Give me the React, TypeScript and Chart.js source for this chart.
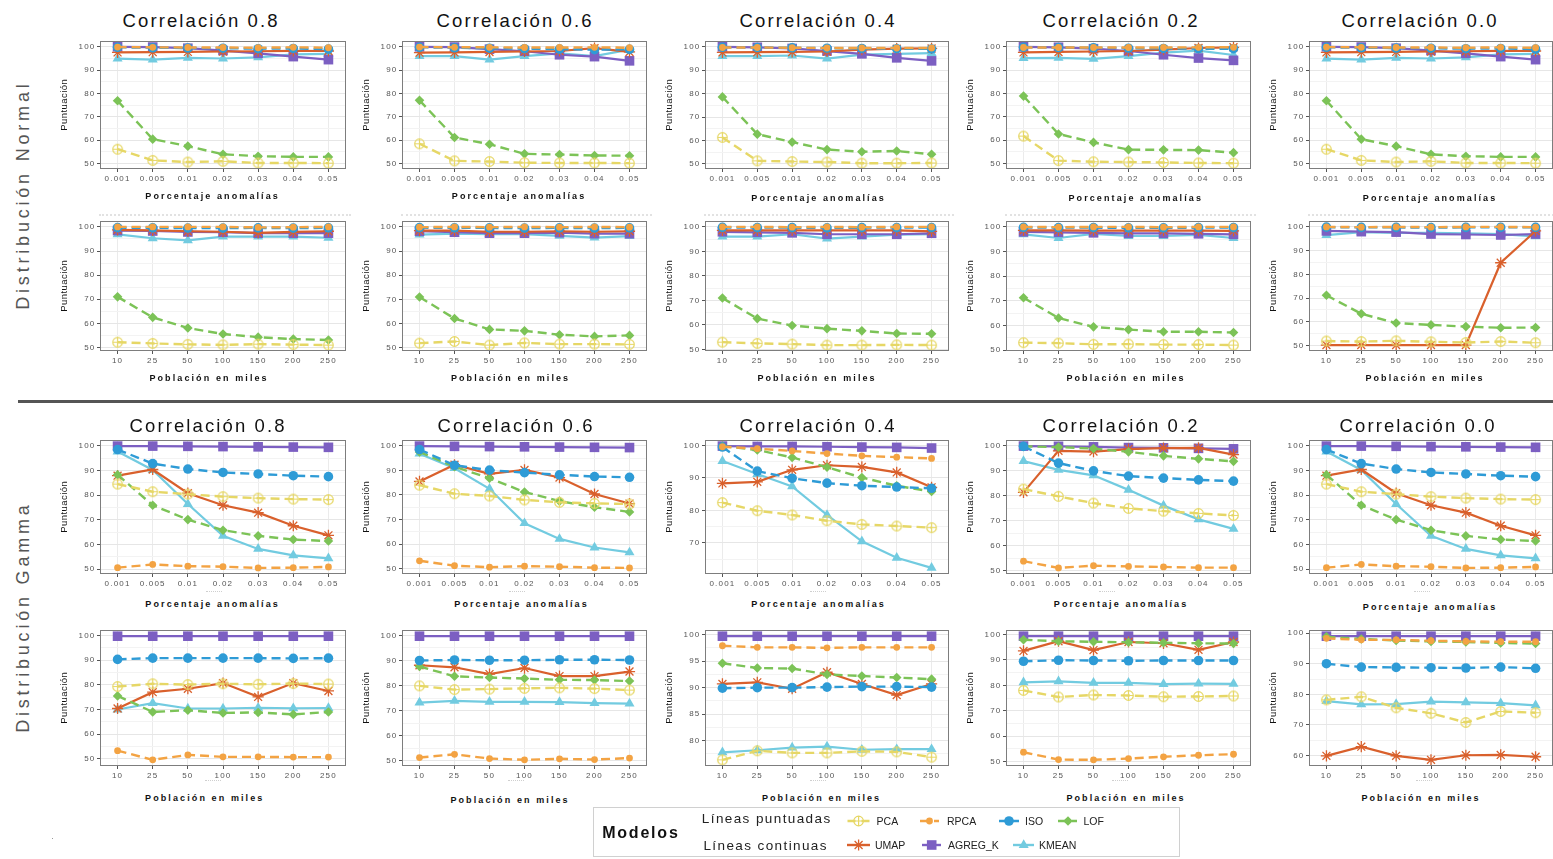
import React, { useEffect, useRef } from 'react';
import { Chart, registerables } from 'chart.js';

Chart.register(...registerables);

// ---------- data ----------
// Each panel holds one row per model, in SERIES order.
const SERIES = ['PCA', 'RPCA', 'ISO', 'LOF', 'UMAP', 'AGREG_K', 'KMEAN'];
const PCT_LABELS = ['0.001', '0.005', '0.01', '0.02', '0.03', '0.04', '0.05'];
const POB_LABELS = ['10', '25', '50', '100', '150', '200', '250'];
const CORR_TITLES = ['Correlación 0.8', 'Correlación 0.6', 'Correlación 0.4', 'Correlación 0.2', 'Correlación 0.0'];
const ROW_TITLES = ['Distribución Normal', 'Distribución Gamma'];

// Distribución Normal, by anomaly percentage
const normalPct08 = [
  [56.1, 51.3, 50.6, 50.9, 50.2, 50.2, 50.1],
  [99.9, 99.8, 99.7, 99.7, 99.6, 99.8, 99.6],
  [99.8, 99.6, 99.5, 99.4, 99.2, 99.3, 99.0],
  [76.9, 60.4, 57.4, 53.9, 53.1, 52.8, 52.8],
  [97.6, 97.7, 97.8, 98.0, 98.1, 98.3, 98.2],
  [100.0, 99.9, 99.4, 98.4, 97.2, 95.8, 94.5],
  [94.9, 94.5, 95.3, 95.0, 95.5, 96.8, 97.0],
];
const normalPct06 = [
  [58.5, 51.2, 50.9, 50.4, 50.3, 50.3, 50.2],
  [99.9, 99.8, 99.8, 99.7, 99.7, 99.8, 99.6],
  [99.8, 99.6, 99.4, 99.2, 99.0, 98.8, 98.9],
  [77.1, 61.2, 58.3, 54.2, 53.9, 53.5, 53.4],
  [97.5, 97.6, 97.8, 98.0, 98.2, 99.4, 97.8],
  [100.0, 99.9, 99.0, 98.1, 96.6, 95.8, 94.0],
  [96.0, 96.0, 94.5, 96.0, 97.2, 96.0, 98.8],
];
const normalPct04 = [
  [61.3, 51.3, 51.0, 50.8, 50.3, 50.3, 50.4],
  [99.7, 99.7, 99.6, 99.5, 99.5, 99.5, 99.5],
  [99.8, 99.7, 99.6, 99.4, 99.3, 99.2, 99.1],
  [78.6, 62.7, 59.3, 56.1, 55.2, 55.5, 54.1],
  [97.6, 97.7, 97.8, 98.0, 98.8, 99.2, 99.3],
  [100.0, 99.8, 99.3, 98.2, 97.0, 95.3, 94.0],
  [96.0, 96.0, 96.3, 95.0, 96.7, 97.0, 97.3],
];
const normalPct02 = [
  [61.8, 51.3, 50.8, 50.7, 50.5, 50.3, 50.2],
  [99.7, 99.7, 99.7, 99.7, 99.7, 99.8, 99.8],
  [99.8, 99.7, 99.6, 99.4, 99.3, 99.2, 99.2],
  [78.9, 62.7, 59.1, 56.0, 55.9, 55.8, 54.7],
  [97.6, 97.8, 98.0, 98.2, 98.8, 99.5, 99.8],
  [100.0, 99.8, 99.2, 98.2, 96.6, 95.2, 94.2],
  [95.2, 95.3, 94.8, 96.0, 97.5, 98.4, 96.5],
];
const normalPct00 = [
  [56.1, 51.3, 50.6, 50.9, 50.2, 50.2, 50.1],
  [99.9, 99.8, 99.7, 99.7, 99.6, 99.8, 99.6],
  [99.8, 99.6, 99.5, 99.4, 99.2, 99.3, 99.0],
  [76.9, 60.4, 57.4, 53.9, 53.1, 52.8, 52.8],
  [97.6, 97.7, 97.8, 98.0, 98.1, 98.3, 98.2],
  [100.0, 99.9, 99.4, 98.4, 97.2, 95.8, 94.5],
  [94.9, 94.5, 95.3, 95.0, 95.5, 96.8, 97.0],
];

// Distribución Normal, by population (thousands)
const normalPob08 = [
  [52.2, 51.7, 51.3, 51.1, 51.4, 51.2, 51.0],
  [100.0, 100.0, 100.0, 100.0, 99.8, 99.9, 100.0],
  [99.7, 99.6, 99.5, 99.5, 99.6, 99.5, 99.6],
  [71.0, 62.5, 58.1, 55.6, 54.3, 53.5, 53.1],
  [98.8, 98.6, 98.2, 98.0, 97.5, 97.9, 98.2],
  [98.5, 98.3, 97.9, 97.8, 97.4, 97.4, 97.4],
  [96.9, 95.3, 94.4, 96.0, 96.0, 96.0, 95.5],
];
const normalPob06 = [
  [51.9, 52.6, 51.1, 52.0, 51.5, 51.5, 51.4],
  [99.9, 100.0, 99.9, 100.0, 99.9, 100.0, 99.9],
  [99.7, 99.6, 99.6, 99.5, 99.6, 99.5, 99.6],
  [71.0, 62.1, 57.6, 57.0, 55.4, 54.7, 55.1],
  [98.5, 98.5, 98.0, 98.0, 98.2, 98.0, 98.2],
  [98.2, 97.8, 97.4, 97.4, 97.6, 97.2, 97.2],
  [96.8, 97.2, 97.0, 97.0, 96.3, 95.6, 96.2],
];
const normalPob04 = [
  [53.0, 52.5, 52.2, 51.8, 51.8, 51.9, 51.8],
  [100.0, 100.0, 99.9, 100.0, 99.9, 100.0, 100.0],
  [99.8, 99.7, 99.7, 99.6, 99.7, 99.7, 99.7],
  [71.0, 62.6, 59.8, 58.5, 57.6, 56.5, 56.4],
  [98.6, 98.6, 98.6, 98.6, 98.6, 98.6, 98.2],
  [98.0, 97.8, 97.6, 97.0, 97.0, 97.0, 97.4],
  [96.0, 96.0, 97.0, 95.2, 96.0, 96.8, 97.0],
];
const normalPob02 = [
  [53.0, 52.8, 52.3, 52.4, 52.2, 52.2, 52.0],
  [100.0, 99.9, 100.0, 100.0, 99.9, 100.0, 100.0],
  [99.8, 99.7, 99.7, 99.6, 99.6, 99.7, 99.7],
  [71.2, 63.0, 59.4, 58.3, 57.4, 57.4, 57.1],
  [98.6, 98.6, 98.5, 98.5, 98.5, 98.5, 98.4],
  [98.0, 97.8, 97.6, 97.4, 97.4, 97.2, 97.0],
  [97.0, 95.5, 97.2, 96.3, 96.3, 96.8, 95.5],
];
const normalPob00 = [
  [51.9, 51.7, 52.0, 51.6, 51.3, 51.7, 51.2],
  [100.0, 99.9, 100.0, 99.9, 100.0, 100.0, 99.9],
  [99.9, 99.8, 99.8, 99.7, 99.8, 99.8, 99.8],
  [71.2, 63.4, 59.5, 58.7, 58.0, 57.5, 57.6],
  [50.2, 50.2, 50.2, 50.2, 50.2, 84.9, 98.3],
  [98.3, 98.0, 97.8, 97.0, 96.8, 96.6, 97.0],
  [96.5, 97.8, 97.5, 97.5, 97.3, 97.0, 96.0],
];

// Distribución Gamma, by anomaly percentage
const gammaPct08 = [
  [84.5, 81.4, 80.4, 79.4, 78.8, 78.4, 78.2],
  [50.6, 51.9, 51.2, 51.0, 50.5, 50.6, 50.9],
  [98.5, 92.8, 90.6, 89.2, 88.6, 87.9, 87.5],
  [88.3, 75.9, 70.1, 65.8, 63.5, 62.0, 61.4],
  [87.9, 90.4, 80.8, 75.9, 72.9, 67.6, 63.7],
  [99.9, 99.9, 99.8, 99.7, 99.6, 99.5, 99.4],
  [97.7, 90.2, 76.4, 63.5, 58.2, 55.6, 54.4],
];
const gammaPct06 = [
  [84.0, 80.5, 79.6, 78.0, 77.0, 76.6, 76.3],
  [53.2, 51.2, 50.6, 51.0, 50.8, 50.4, 50.3],
  [98.5, 92.1, 90.1, 89.1, 88.2, 87.5, 87.2],
  [97.5, 91.5, 86.8, 81.2, 77.5, 75.0, 73.1],
  [85.5, 92.3, 88.6, 90.2, 87.1, 80.4, 76.5],
  [99.9, 99.8, 99.7, 99.6, 99.5, 99.4, 99.3],
  [96.8, 90.9, 82.5, 68.5, 62.1, 58.6, 56.6],
];
const gammaPct04 = [
  [82.4, 79.9, 78.6, 76.8, 75.7, 75.2, 74.7],
  [99.6, 99.0, 98.3, 97.5, 96.8, 96.4, 96.0],
  [99.5, 92.1, 89.9, 88.4, 87.6, 87.2, 86.8],
  [99.8, 98.6, 96.3, 93.3, 90.1, 87.6, 85.8],
  [88.3, 88.8, 92.5, 93.9, 93.4, 91.7, 87.1],
  [99.8, 99.7, 99.7, 99.6, 99.5, 99.4, 99.2],
  [95.2, 91.2, 87.4, 78.6, 70.5, 65.4, 62.3],
];
const gammaPct02 = [
  [82.7, 79.8, 77.1, 75.0, 73.9, 73.0, 72.2],
  [53.9, 51.2, 52.1, 51.8, 51.6, 51.3, 51.3],
  [99.8, 93.1, 90.0, 87.9, 87.1, 86.4, 85.9],
  [99.8, 99.5, 98.9, 97.6, 96.0, 94.8, 93.8],
  [81.4, 98.0, 97.7, 98.7, 99.1, 99.2, 96.5],
  [99.9, 99.8, 99.6, 99.3, 99.2, 99.0, 98.8],
  [93.9, 90.4, 88.2, 82.4, 76.1, 70.6, 66.8],
];
const gammaPct00 = [
  [84.5, 81.4, 80.4, 79.4, 78.8, 78.4, 78.2],
  [50.6, 51.9, 51.2, 51.0, 50.5, 50.6, 50.9],
  [98.5, 92.8, 90.6, 89.2, 88.6, 87.9, 87.5],
  [88.3, 75.9, 70.1, 65.8, 63.5, 62.0, 61.4],
  [87.9, 90.4, 80.8, 75.9, 72.9, 67.6, 63.7],
  [99.9, 99.9, 99.8, 99.7, 99.6, 99.5, 99.4],
  [97.7, 90.2, 76.4, 63.5, 58.2, 55.6, 54.4],
];

// Distribución Gamma, by population (thousands)
const gammaPob08 = [
  [79.3, 80.4, 80.1, 80.4, 80.2, 80.5, 80.3],
  [53.3, 49.6, 51.6, 50.8, 50.8, 50.7, 50.7],
  [90.3, 90.8, 90.8, 90.8, 90.8, 90.7, 90.8],
  [75.5, 69.0, 69.7, 68.6, 68.8, 68.0, 69.0],
  [70.4, 77.0, 78.4, 80.7, 75.1, 80.7, 77.5],
  [99.7, 99.7, 99.7, 99.7, 99.7, 99.7, 99.7],
  [70.0, 72.6, 70.4, 70.4, 70.7, 70.5, 70.6],
];
const gammaPob06 = [
  [79.9, 78.4, 78.6, 78.9, 79.1, 78.8, 78.2],
  [51.3, 52.6, 50.9, 50.4, 50.8, 50.5, 51.1],
  [90.0, 90.2, 90.1, 90.1, 90.3, 90.3, 90.2],
  [87.6, 83.7, 83.2, 82.8, 82.3, 82.2, 81.8],
  [88.1, 87.3, 84.6, 87.0, 83.8, 83.8, 85.6],
  [99.7, 99.7, 99.7, 99.7, 99.7, 99.7, 99.7],
  [73.2, 73.9, 73.5, 73.5, 73.4, 73.0, 72.8],
];
const gammaPob04 = [
  [76.4, 78.1, 77.7, 77.7, 78.0, 77.9, 76.9],
  [97.9, 97.6, 97.6, 97.5, 97.6, 97.6, 97.6],
  [89.9, 90.0, 90.0, 90.1, 90.2, 90.2, 90.1],
  [94.6, 93.7, 93.6, 92.5, 92.2, 91.9, 91.6],
  [90.7, 91.0, 89.8, 92.9, 90.7, 88.6, 90.7],
  [99.7, 99.7, 99.7, 99.7, 99.7, 99.7, 99.7],
  [77.8, 78.2, 78.7, 78.9, 78.3, 78.4, 78.4],
];
const gammaPob02 = [
  [78.0, 75.4, 76.2, 76.0, 75.5, 75.6, 75.8],
  [53.6, 50.7, 50.6, 51.1, 51.8, 52.4, 52.8],
  [89.5, 89.9, 89.8, 89.7, 89.8, 89.8, 89.8],
  [98.0, 97.4, 97.2, 97.0, 96.8, 96.6, 96.5],
  [93.6, 97.4, 93.9, 97.1, 96.6, 94.0, 97.1],
  [99.4, 99.4, 99.4, 99.4, 99.4, 99.4, 99.4],
  [81.2, 81.6, 81.0, 81.0, 80.5, 80.7, 80.6],
];
const gammaPob00 = [
  [78.2, 79.2, 75.6, 73.8, 70.8, 74.4, 74.0],
  [98.3, 97.8, 97.8, 97.5, 97.3, 97.2, 97.2],
  [90.0, 88.9, 88.8, 88.7, 88.6, 88.9, 88.5],
  [98.8, 98.1, 97.6, 97.3, 97.1, 96.8, 96.6],
  [59.9, 62.9, 59.9, 58.6, 60.1, 60.2, 59.6],
  [99.0, 99.0, 99.0, 99.0, 99.0, 99.0, 99.0],
  [77.8, 76.7, 76.8, 77.6, 77.4, 77.1, 76.4],
];

const PANEL_ROWS = [
  { labels: PCT_LABELS, xTitle: 'Porcentaje anomalías', panels: [normalPct08, normalPct06, normalPct04, normalPct02, normalPct00] },
  { labels: POB_LABELS, xTitle: 'Población en miles', panels: [normalPob08, normalPob06, normalPob04, normalPob02, normalPob00] },
  { labels: PCT_LABELS, xTitle: 'Porcentaje anomalías', panels: [gammaPct08, gammaPct06, gammaPct04, gammaPct02, gammaPct00] },
  { labels: POB_LABELS, xTitle: 'Población en miles', panels: [gammaPob08, gammaPob06, gammaPob04, gammaPob02, gammaPob00] },
];

// ---------- look ----------
const FONT = "'Liberation Sans', Arial, Helvetica, sans-serif";

const STYLES: Record<string, any> = {
  PCA: { color: '#e6d766', dashed: true, marker: 'circlePlus' },
  RPCA: { color: '#f3a343', dashed: true, marker: 'dotSmall' },
  ISO: { color: '#2e9bd6', dashed: true, marker: 'dot' },
  LOF: { color: '#7cc357', dashed: true, marker: 'diamond' },
  UMAP: { color: '#d9602c', dashed: false, marker: 'asterisk' },
  AGREG_K: { color: '#7c5fc2', dashed: false, marker: 'square' },
  KMEAN: { color: '#72cbe0', dashed: false, marker: 'triangle' },
};

// panel boxes (plot area) in page pixels
const COLS = [
  { L: 100, W: 246 },
  { L: 402, W: 245 },
  { L: 705, W: 244 },
  { L: 1006, W: 245 },
  { L: 1309, W: 244 },
];
const ROWS = [
  { T: 41, H: 128 },
  { T: 221, H: 130 },
  { T: 440, H: 134 },
  { T: 630, H: 136 },
];
const AXW = 32;
const AXH = 22;
const PT = 8;
const PR = 8;

const TITLE_POS = [
  { y: 21, xs: [200, 514, 817, 1120, 1419] },
  null,
  { y: 426, xs: [207, 515, 817, 1120, 1417] },
  null,
];
const XTITLE_POS = [
  { ys: [196, 196, 197.5, 197.5, 197.5], xs: [211.6, 518, 817.6, 1134.7, 1429] },
  { ys: [378, 378, 378, 378, 378], xs: [208, 509.5, 816, 1125, 1424] },
  { ys: [604, 604, 604, 604, 606.5], xs: [211.6, 520.5, 817.6, 1120, 1429] },
  { ys: [798.3, 800, 798, 798, 798], xs: [203.7, 509, 820.5, 1125, 1420] },
];
// small leftover dot runs under the Gamma panels' tick labels
const DOT_RUNS = [
  { y: 591, xs: [214, 517, 818, 1107, 1422] },
  { y: 780, xs: [213, 516, 818, 1120, 1424] },
];

function drawMarker(ctx: CanvasRenderingContext2D, kind: string, x: number, y: number, color: string) {
  ctx.save();
  ctx.fillStyle = color;
  ctx.strokeStyle = color;
  ctx.setLineDash([]);
  ctx.beginPath();
  if (kind === 'circlePlus') {
    const r = 4.8;
    ctx.lineWidth = 1.2;
    ctx.arc(x, y, r, 0, Math.PI * 2);
    ctx.moveTo(x - r, y);
    ctx.lineTo(x + r, y);
    ctx.moveTo(x, y - r);
    ctx.lineTo(x, y + r);
    ctx.stroke();
  } else if (kind === 'dotSmall' || kind === 'dot') {
    ctx.arc(x, y, kind === 'dot' ? 4.8 : 3.4, 0, Math.PI * 2);
    ctx.fill();
  } else if (kind === 'diamond') {
    const r = 4.8;
    ctx.moveTo(x, y - r);
    ctx.lineTo(x + r, y);
    ctx.lineTo(x, y + r);
    ctx.lineTo(x - r, y);
    ctx.closePath();
    ctx.fill();
  } else if (kind === 'asterisk') {
    const r = 5.6;
    ctx.lineWidth = 1.3;
    for (let k = 0; k < 4; k++) {
      const a = (k * Math.PI) / 4;
      ctx.moveTo(x - Math.cos(a) * r, y - Math.sin(a) * r);
      ctx.lineTo(x + Math.cos(a) * r, y + Math.sin(a) * r);
    }
    ctx.stroke();
  } else if (kind === 'square') {
    ctx.rect(x - 4.8, y - 4.8, 9.6, 9.6);
    ctx.fill();
  } else if (kind === 'triangle') {
    const r = 5.8;
    for (let k = 0; k < 3; k++) {
      const a = -Math.PI / 2 + (k * 2 * Math.PI) / 3;
      const px = x + Math.cos(a) * r;
      const py = y + Math.sin(a) * r;
      if (k === 0) ctx.moveTo(px, py);
      else ctx.lineTo(px, py);
    }
    ctx.closePath();
    ctx.fill();
  }
  ctx.restore();
}

function makeCirclePlus(color: string) {
  const c = document.createElement('canvas');
  c.width = 13;
  c.height = 13;
  const ctx = c.getContext('2d')!;
  drawMarker(ctx, 'circlePlus', 6.5, 6.5, color);
  return c;
}

const framePlugin = {
  id: 'panelFrame',
  beforeDraw(chart: any) {
    chart.ctx.letterSpacing = '1.2px';
  },
  afterDraw(chart: any) {
    const { ctx, chartArea: a } = chart;
    ctx.save();
    ctx.letterSpacing = '0px';
    ctx.strokeStyle = '#7d7d7d';
    ctx.lineWidth = 1;
    ctx.strokeRect(Math.round(a.left) + 0.5, Math.round(a.top) + 0.5, Math.round(a.right - a.left) - 1, Math.round(a.bottom - a.top) - 1);
    ctx.restore();
  },
};

function Panel({ rows, labels, r, c }: { rows: number[][]; labels: string[]; r: number; c: number }) {
  const ref = useRef<HTMLCanvasElement>(null);
  const box = { ...COLS[c], ...ROWS[r] };
  const cw = AXW + box.W + PR;
  const ch = PT + box.H + AXH;

  useEffect(() => {
    const all = rows.flat();
    const lo = Math.min(...all);
    const hi = Math.max(...all);
    const pad = (hi - lo) * 0.05;
    const yMin = lo - pad;
    const yMax = hi + pad;
    const major = hi - lo < 30 ? 5 : 10;
    const minor = major / 2;
    const tickVals: number[] = [];
    for (let v = Math.ceil(yMin / minor) * minor; v <= yMax + 1e-9; v += minor) tickVals.push(+v.toFixed(4));
    const isMajor = (v: number) => Math.abs(v / major - Math.round(v / major)) < 1e-6;

    const pcaImg = makeCirclePlus(STYLES.PCA.color);
    const pointStyles: Record<string, any> = {
      circlePlus: { pointStyle: pcaImg, radius: 5, bw: 1 },
      dotSmall: { pointStyle: 'circle', radius: 3.4, bw: 0 },
      dot: { pointStyle: 'circle', radius: 4.8, bw: 0 },
      diamond: { pointStyle: 'rectRot', radius: 4.8, bw: 0 },
      asterisk: { pointStyle: 'star', radius: 5.6, bw: 1.3 },
      square: { pointStyle: 'rect', radius: 6.8, bw: 0 },
      triangle: { pointStyle: 'triangle', radius: 5.8, bw: 0 },
    };

    const datasets = SERIES.map((name, i) => {
      const st = STYLES[name];
      const ps = pointStyles[st.marker];
      return {
        label: name,
        data: rows[i],
        borderColor: st.color,
        backgroundColor: st.color,
        borderWidth: st.dashed ? 2.4 : 2.2,
        borderDash: st.dashed ? [9, 5] : [],
        tension: 0,
        fill: false,
        clip: false,
        pointStyle: ps.pointStyle,
        pointRadius: ps.radius,
        pointBorderWidth: ps.bw,
        pointBackgroundColor: st.color,
        pointBorderColor: st.color,
      };
    });

    const tickFont = { family: FONT, size: 8 };
    const chart = new Chart(ref.current!, {
      type: 'line',
      data: { labels, datasets },
      options: {
        animation: false,
        responsive: false,
        maintainAspectRatio: false,
        devicePixelRatio: 1,
        events: [],
        layout: { padding: { left: 0, top: PT, right: PR, bottom: 0 } },
        plugins: { legend: { display: false }, tooltip: { enabled: false }, title: { display: false } },
        scales: {
          x: {
            type: 'category',
            offset: true,
            border: { display: false },
            grid: { color: '#ebebeb', lineWidth: 1, offset: false, drawTicks: true, tickLength: 3, tickColor: '#555' },
            ticks: { font: tickFont, color: '#555', padding: 2, maxRotation: 0, autoSkip: false },
            afterFit: (s: any) => {
              s.height = AXH;
            },
          },
          y: {
            type: 'linear',
            min: yMin,
            max: yMax,
            border: { display: false },
            grid: {
              color: (ctx: any) => (isMajor(ctx.tick.value) ? '#e6e6e6' : '#f3f3f3'),
              lineWidth: 1,
              drawTicks: true,
              tickLength: 3,
              tickColor: (ctx: any) => (isMajor(ctx.tick.value) ? '#555' : 'rgba(0,0,0,0)'),
            },
            ticks: {
              font: tickFont,
              color: '#555',
              padding: 1.5,
              callback: (v: any) => (isMajor(+v) ? String(Math.round(+v)) : ''),
            },
            afterBuildTicks: (s: any) => {
              s.ticks = tickVals.map((v) => ({ value: v }));
            },
            afterFit: (s: any) => {
              s.width = AXW;
            },
          },
        },
      } as any,
      plugins: [framePlugin],
    });
    return () => chart.destroy();
  }, []);

  return (
    <canvas
      ref={ref}
      width={cw}
      height={ch}
      style={{ position: 'absolute', left: box.L - AXW, top: box.T - PT, width: cw, height: ch }}
    />
  );
}

function Text(props: {
  x: number;
  y: number;
  text: string;
  size: number;
  weight?: number;
  color?: string;
  ls?: number;
  rotate?: boolean;
}) {
  const { x, y, text, size, weight = 400, color = '#000', ls = 0, rotate = false } = props;
  return (
    <div
      style={{
        position: 'absolute',
        left: x,
        top: y,
        transform: `translate(-50%, -50%)${rotate ? ' rotate(-90deg)' : ''}`,
        fontFamily: FONT,
        fontSize: size,
        fontWeight: weight,
        color,
        letterSpacing: ls,
        paddingLeft: ls,
        whiteSpace: 'nowrap',
        lineHeight: 1,
      }}
    >
      {text}
    </div>
  );
}

// legend keys: [series, line start, line end, marker x, row]
const LEGEND_KEYS: [string, number, number, number, number][] = [
  ['PCA', 847.5, 870, 858.6, 0],
  ['RPCA', 920, 939, 929.5, 0],
  ['ISO', 999, 1019, 1009, 0],
  ['LOF', 1058, 1077, 1068, 0],
  ['UMAP', 847, 870, 858.6, 1],
  ['AGREG_K', 922, 941, 931.7, 1],
  ['KMEAN', 1013, 1034, 1023.7, 1],
];
const LEGEND_TEXT_X: Record<string, number> = {
  PCA: 876.6,
  RPCA: 947,
  ISO: 1025,
  LOF: 1083.5,
  UMAP: 875,
  AGREG_K: 948,
  KMEAN: 1039,
};
const LG = { L: 593, T: 807, W: 587, H: 50 };
const LEGEND_ROW_Y = [821, 845];

function Legend() {
  const ref = useRef<HTMLCanvasElement>(null);
  useEffect(() => {
    const ctx = ref.current!.getContext('2d')!;
    ctx.clearRect(0, 0, LG.W, LG.H);
    LEGEND_KEYS.forEach(([name, x1, x2, xm, row]) => {
      const st = STYLES[name];
      const y = LEGEND_ROW_Y[row] - LG.T;
      ctx.save();
      ctx.strokeStyle = st.color;
      ctx.lineWidth = 2.4;
      ctx.setLineDash(st.dashed ? [8, 6] : []);
      ctx.beginPath();
      ctx.moveTo(x1 - LG.L, y);
      ctx.lineTo(x2 - LG.L, y);
      ctx.stroke();
      ctx.restore();
      drawMarker(ctx, st.marker, xm - LG.L, y, st.color);
    });
  }, []);
  return (
    <div
      style={{
        position: 'absolute',
        left: LG.L,
        top: LG.T,
        width: LG.W,
        height: LG.H,
        border: '1px solid #d0d0d0',
        boxSizing: 'border-box',
        background: '#fff',
      }}
    >
      <canvas ref={ref} width={LG.W} height={LG.H} style={{ position: 'absolute', left: -1, top: -1 }} />
    </div>
  );
}

export default function App() {
  const texts: React.ReactNode[] = [];

  // row labels
  texts.push(<Text key="rl0" x={23} y={197} text={ROW_TITLES[0]} size={18} ls={3.8} color="#555" rotate />);
  texts.push(<Text key="rl1" x={23} y={619} text={ROW_TITLES[1]} size={18} ls={3.8} color="#555" rotate />);

  PANEL_ROWS.forEach((row, r) => {
    const tp = TITLE_POS[r];
    if (tp) {
      tp.xs.forEach((x, c) =>
        texts.push(<Text key={`t${r}${c}`} x={x} y={tp.y} text={CORR_TITLES[c]} size={18.5} ls={2.1} color="#111" />)
      );
    }
    const xp = XTITLE_POS[r];
    xp.xs.forEach((x, c) =>
      texts.push(<Text key={`x${r}${c}`} x={x} y={xp.ys[c]} text={row.xTitle} size={9} weight={700} ls={2.1} color="#111" />)
    );
    COLS.forEach((col, c) =>
      texts.push(
        <Text
          key={`y${r}${c}`}
          x={col.L - 36}
          y={ROWS[r].T + ROWS[r].H / 2}
          text="Puntuación"
          size={9.5}
          ls={0.45}
          color="#111"
          rotate
        />
      )
    );
  });

  // legend texts
  texts.push(<Text key="lgm" x={640} y={833} text="Modelos" size={16} weight={700} ls={1.8} color="#111" />);
  texts.push(<Text key="lgp" x={766} y={819} text="Líneas puntuadas" size={13.5} ls={1.4} color="#222" />);
  texts.push(<Text key="lgc" x={765} y={846} text="Líneas continuas" size={13.5} ls={1.4} color="#222" />);
  LEGEND_KEYS.forEach(([name, , , , row]) =>
    texts.push(
      <div
        key={`lt${name}`}
        style={{
          position: 'absolute',
          left: LEGEND_TEXT_X[name],
          top: LEGEND_ROW_Y[row],
          transform: 'translateY(-50%)',
          fontFamily: FONT,
          fontSize: 10.5,
          lineHeight: 1,
          color: '#222',
          whiteSpace: 'nowrap',
        }}
      >
        {name}
      </div>
    )
  );

  // faint strips left over above the population panels
  const strips: React.ReactNode[] = COLS.map((col, c) => (
    <div
      key={`s${c}`}
      style={{
        position: 'absolute',
        left: col.L - 1,
        top: 214,
        width: col.W + 6,
        height: 0,
        borderTop: '2px dotted #e2e2e2',
      }}
    />
  ));
  DOT_RUNS.forEach((run, i) =>
    run.xs.forEach((x, c) =>
      strips.push(
        <div
          key={`d${i}${c}`}
          style={{
            position: 'absolute',
            left: x - 8,
            top: run.y,
            width: 16,
            height: 0,
            borderTop: '1px dotted #cfcfcf',
          }}
        />
      )
    )
  );
  strips.push(
    <div key="speck" style={{ position: 'absolute', left: 52, top: 838, width: 1, height: 1, background: '#999' }} />
  );

  return (
    <div
      style={{
        position: 'absolute',
        left: 0,
        top: 0,
        width: 1553,
        height: 859,
        background: '#fff',
        overflow: 'hidden',
      }}
    >
      {strips}
      {PANEL_ROWS.map((row, r) =>
        row.panels.map((rows, c) => <Panel key={`p${r}${c}`} rows={rows} labels={row.labels} r={r} c={c} />)
      )}
      <div style={{ position: 'absolute', left: 18, top: 399.5, width: 1535, height: 3, background: '#555' }} />
      <Legend />
      {texts}
    </div>
  );
}
